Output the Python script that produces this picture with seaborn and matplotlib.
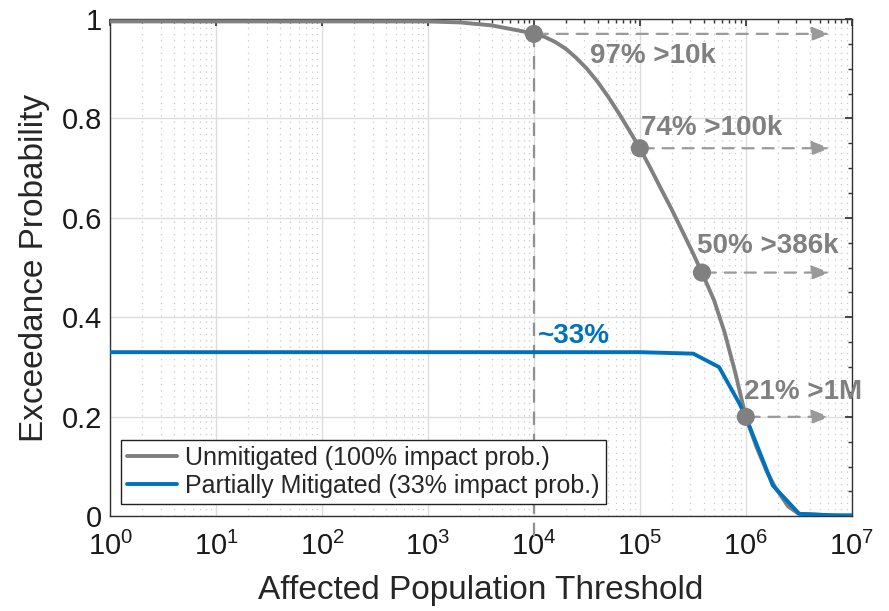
import numpy as np
import pandas as pd
import seaborn as sns
import matplotlib.pyplot as plt
from matplotlib.ticker import LogLocator, FixedLocator, NullFormatter

sns.set_theme(style="white")
plt.rcParams['font.family'] = ['Liberation Sans', 'DejaVu Sans']
plt.rcParams['mathtext.fontset'] = 'custom'
plt.rcParams['mathtext.rm'] = 'Liberation Sans'

# curve data (affected population threshold, exceedance probability)
unmit_x = [1, 10, 100, 1e3, 2e3, 4e3, 6.3e3, 7.9e3, 1e4, 1.26e4, 1.58e4, 2e4, 2.5e4,
           3.16e4, 3.98e4, 5.01e4, 6.31e4, 7.94e4, 1e5, 1.26e5, 1.58e5, 2e5, 2.51e5,
           3.16e5, 3.86e5, 5.01e5, 6.31e5, 7.94e5, 1e6, 1.26e6, 1.58e6, 1.9e6, 2.51e6,
           3.16e6, 1e7]
unmit_y = [0.995, 0.995, 0.995, 0.995, 0.993, 0.987, 0.979, 0.975, 0.97, 0.964, 0.954,
           0.94, 0.922, 0.90, 0.874, 0.844, 0.811, 0.776, 0.74, 0.70, 0.659, 0.617, 0.574,
           0.53, 0.49, 0.435, 0.37, 0.29, 0.20, 0.14, 0.09, 0.058, 0.02, 0.005, 0.0]
mit_x = [1, 10, 100, 1e3, 1e4, 1e5, 3.2e5, 5.6e5, 8.7e5, 1e6, 1.8e6, 3.2e6, 6.6e6, 1e7]
mit_y = [0.33, 0.33, 0.33, 0.33, 0.33, 0.33, 0.327, 0.30, 0.227, 0.20, 0.062, 0.005,
         0.002, 0.002]

# highlighted points and labels
pt_x = [1e4, 1e5, 3.86e5, 1e6]
pt_y = [0.97, 0.74, 0.49, 0.20]
pt_labels = ["97% >10k", "74% >100k", "50% >386k", "21% >1M"]
label_x = [3.4e4, 1.02e5, 3.5e5, 9.6e5]
label_y = [0.925, 0.78, 0.543, 0.25]

grey = "#808080"
blue = "#0072BD"

df = pd.concat([
    pd.DataFrame({"x": unmit_x, "y": unmit_y, "s": "Unmitigated (100% impact prob.)"}),
    pd.DataFrame({"x": mit_x, "y": mit_y, "s": "Partially Mitigated (33% impact prob.)"}),
])

fig = plt.figure(figsize=(8.89, 6.11), dpi=100)
ax = fig.add_axes([0.124, 0.155, 0.834, 0.814])

sns.lineplot(data=df, x="x", y="y", hue="s", palette=[grey, blue], linewidth=2.8,
             ax=ax, sort=False, zorder=3)
ax.set_xscale("log")
ax.set_xlim(1, 1e7)
ax.set_ylim(0, 1)

# guide lines
ax.plot([1e4, 1e4], [-0.04, 0.97], ls=(0, (6, 4)), color="#909090", lw=1.6, zorder=2,
        clip_on=False)
for px, py in zip(pt_x, pt_y):
    ax.annotate("", xy=(6.6e6, py), xytext=(px, py),
                arrowprops=dict(arrowstyle="-|>,head_length=0.9,head_width=0.35",
                                ls=(0, (5, 4)), color="#9a9a9a", lw=1.6), zorder=4)
ax.scatter(pt_x, pt_y, s=170, color=grey, zorder=5, edgecolor="none")
for lx, ly, t in zip(label_x, label_y, pt_labels):
    ax.text(lx, ly, t, color=grey, fontsize=20, fontweight="bold", va="center", zorder=6)
ax.text(1.1e4, 0.362, "~33%", color=blue, fontsize=20, fontweight="bold", va="center")

# grid and ticks, MATLAB-like
ax.xaxis.set_major_locator(FixedLocator([10.0**k for k in range(8)]))
ax.xaxis.set_minor_locator(LogLocator(base=10, subs=np.arange(2, 10), numticks=20))
ax.xaxis.set_minor_formatter(NullFormatter())
ax.set_xticklabels([r"$10^{%d}$" % k for k in range(8)])
ax.set_yticks([0, 0.2, 0.4, 0.6, 0.8, 1])
ax.set_yticklabels(["0", "0.2", "0.4", "0.6", "0.8", "1"])
ax.set_yticks(np.arange(0, 1.01, 0.05), minor=True)
ax.grid(which="major", color="#dddddd", lw=1.0, ls="-")
ax.grid(which="minor", axis="x", color="#c8c8c8", lw=0.9, ls=(0, (1, 4)))
ax.tick_params(which="both", direction="in", top=True, right=True, labelsize=21,
               color="#333333", labelcolor="#1a1a1a")
ax.tick_params(which="major", length=5, pad=6)
ax.tick_params(axis="x", which="major", pad=11)
ax.tick_params(which="minor", length=3)
for sp in ax.spines.values():
    sp.set_color("#333333")
    sp.set_linewidth(1.0)

ax.set_xlabel("Affected Population Threshold", fontsize=24, color="#262626", labelpad=10)
ax.set_ylabel("Exceedance Probability", fontsize=24, color="#262626", labelpad=8)

leg = ax.legend(loc="lower left", fontsize=18, frameon=True, fancybox=False,
                handlelength=2.0, handletextpad=0.3, borderpad=0.25, labelspacing=0.15,
                borderaxespad=0.2, bbox_to_anchor=(0.008, 0.015))
leg.get_frame().set_edgecolor("#222222")
leg.get_frame().set_linewidth(1.0)
leg.get_frame().set_alpha(1)

fig.savefig("out.png", dpi=100)
